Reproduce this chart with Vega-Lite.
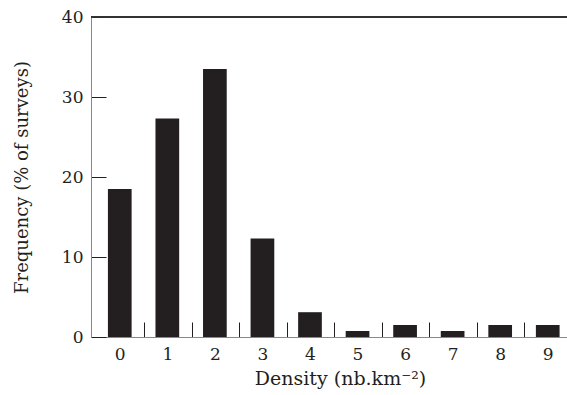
{
  "$schema": "https://vega.github.io/schema/vega-lite/v6.json",
  "autosize": "none",
  "width": 476,
  "height": 320,
  "padding": {"left": 91, "top": 17, "right": 0, "bottom": 58},
  "background": "white",
  "config": {
    "view": {"stroke": null},
    "font": "DejaVu Serif",
    "axis": {"labelFont": "DejaVu Serif", "titleFont": "DejaVu Serif", "labelColor": "#231f20", "titleColor": "#231f20", "titleFontWeight": "normal"}
  },
  "data": {
    "values": [
      {"density": 0, "freq": 18.5},
      {"density": 1, "freq": 27.3},
      {"density": 2, "freq": 33.5},
      {"density": 3, "freq": 12.3},
      {"density": 4, "freq": 3.1},
      {"density": 5, "freq": 0.75},
      {"density": 6, "freq": 1.5},
      {"density": 7, "freq": 0.75},
      {"density": 8, "freq": 1.5},
      {"density": 9, "freq": 1.5}
    ]
  },
  "layer": [
    {
      "mark": {"type": "bar", "size": 23.7, "color": "#231f20"},
      "encoding": {
        "x": {
          "field": "density",
          "type": "quantitative",
          "scale": {"domain": [-0.5, 9.3], "nice": false, "zero": false},
          "axis": {
            "values": [0, 1, 2, 3, 4, 5, 6, 7, 8, 9],
            "title": "Density (nb.km⁻²)",
            "titleFontSize": 19,
            "titleX": 249,
            "titleAlign": "center",
            "titlePadding": 7,
            "labelFontSize": 17,
            "labelPadding": 24,
            "tickSize": -15,
            "tickOffset": 24.3,
            "labelOffset": -24.3,
            "tickColor": "#231f20",
            "tickWidth": 1,
            "domainColor": "#888888",
            "grid": false
          }
        },
        "y": {
          "field": "freq",
          "type": "quantitative",
          "scale": {"domain": [0, 40], "nice": false},
          "axis": {
            "values": [0, 10, 20, 30, 40],
            "title": "Frequency (% of surveys)",
            "titleFontSize": 18,
            "titlePadding": 30,
            "labelFontSize": 17,
            "labelPadding": 23,
            "tickSize": -15,
            "tickColor": "#231f20",
            "domainColor": "#888888",
            "grid": false
          }
        }
      }
    },
    {
      "mark": {"type": "rule", "color": "#333333", "strokeWidth": 1.2},
      "encoding": {"y": {"datum": 40}}
    }
  ]
}
